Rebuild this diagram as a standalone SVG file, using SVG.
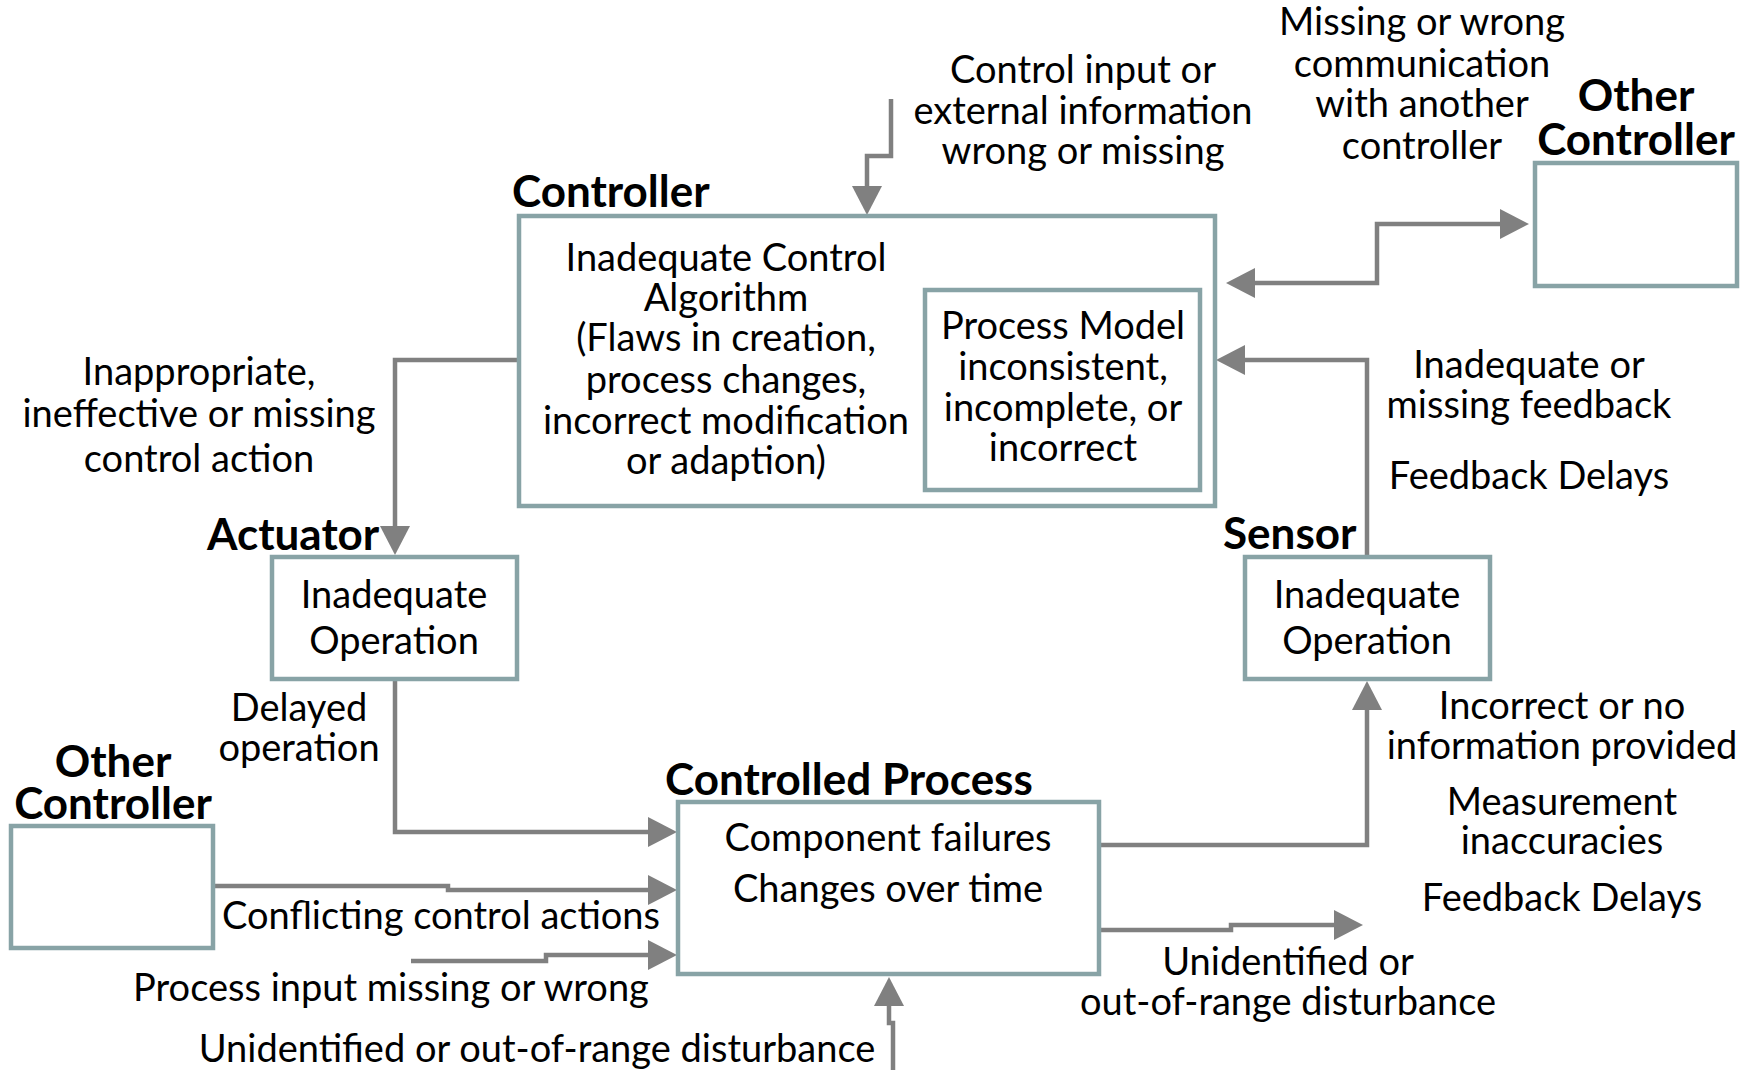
<svg xmlns="http://www.w3.org/2000/svg" width="1756" height="1070" viewBox="0 0 1756 1070">
  <defs>
    <style>
      .box { fill: #ffffff; stroke: #88a3a6; stroke-width: 4.5; }
      .wire { fill: none; stroke: #808080; stroke-width: 4.5; stroke-linejoin: miter; }
      .t { font-family: Lato, "Open Sans", "Liberation Sans", sans-serif; font-size: 38px; fill: #000; text-anchor: middle; }
      .h { font-family: Lato, "Open Sans", "Liberation Sans", sans-serif; font-size: 44px; font-weight: bold; fill: #000; }
      .hc { text-anchor: middle; }
    </style>
    <marker id="arrow" viewBox="0 0 29 30" refX="0" refY="15" markerWidth="29" markerHeight="30" markerUnits="userSpaceOnUse" orient="auto-start-reverse">
      <path d="M0,0 L29,15 L0,30 Z" fill="#808080"/>
    </marker>
  </defs>

  <rect width="1756" height="1070" fill="#ffffff"/>

  <!-- connectors -->
  <g id="connectors">
    <path class="wire" d="M891,99 V156 H867 V186" marker-end="url(#arrow)"/>
    <path class="wire" d="M1255,283 H1377 V224 H1500" marker-start="url(#arrow)" marker-end="url(#arrow)"/>
    <path class="wire" d="M1367,557 V360 H1245" marker-end="url(#arrow)"/>
    <path class="wire" d="M518,360 H395 V526" marker-end="url(#arrow)"/>
    <path class="wire" d="M395,680 V832 H648" marker-end="url(#arrow)"/>
    <path class="wire" d="M214,886 H448 V890 H648" marker-end="url(#arrow)"/>
    <path class="wire" d="M411,961 H546 V955 H648" marker-end="url(#arrow)"/>
    <path class="wire" d="M893,1070 V1023 H889 V1006" marker-end="url(#arrow)"/>
    <path class="wire" d="M1100,845 H1367 V710" marker-end="url(#arrow)"/>
    <path class="wire" d="M1100,930 H1231 V925 H1334" marker-end="url(#arrow)"/>
  </g>

  <!-- controller -->
  <g id="controller">
    <text class="h" x="512" y="207">Controller</text>
    <rect class="box" x="519" y="216" width="696" height="290"/>
    <text class="t" x="726" y="271">Inadequate Control<tspan x="726" dy="40">Algorithm</tspan><tspan x="726" dy="40">(Flaws in creation,</tspan><tspan x="726" dy="42">process changes,</tspan><tspan x="726" dy="41">incorrect modification</tspan><tspan x="726" dy="40">or adaption)</tspan></text>
  </g>

  <g id="process-model">
    <rect class="box" x="925" y="290" width="275" height="200"/>
    <text class="t" x="1063" y="339">Process Model<tspan x="1063" dy="41">inconsistent,</tspan><tspan x="1063" dy="41">incomplete, or</tspan><tspan x="1063" dy="40">incorrect</tspan></text>
  </g>

  <!-- other controller, upper right -->
  <g id="other-controller-right">
    <text class="h hc" x="1636" y="111">Other<tspan x="1636" dy="44">Controller</tspan></text>
    <rect class="box" x="1535" y="163" width="202" height="123"/>
  </g>

  <!-- other controller, lower left -->
  <g id="other-controller-left">
    <text class="h hc" x="113" y="777">Other<tspan x="113" dy="42">Controller</tspan></text>
    <rect class="box" x="11" y="826" width="202" height="122"/>
  </g>

  <g id="actuator">
    <text class="h" x="207" y="550">Actuator</text>
    <rect class="box" x="272" y="557" width="245" height="122"/>
    <text class="t" x="394" y="608">Inadequate<tspan x="394" dy="46">Operation</tspan></text>
  </g>

  <g id="sensor">
    <text class="h" x="1223" y="549">Sensor</text>
    <rect class="box" x="1245" y="557" width="245" height="122"/>
    <text class="t" x="1367" y="608">Inadequate<tspan x="1367" dy="46">Operation</tspan></text>
  </g>

  <g id="controlled-process">
    <text class="h" x="665" y="795">Controlled Process</text>
    <rect class="box" x="678" y="802" width="421" height="172"/>
    <text class="t" x="888" y="851">Component failures<tspan x="888" dy="51">Changes over time</tspan></text>
  </g>

  <!-- connector labels -->
  <g id="labels">
    <text class="t" x="1083" y="83">Control input or<tspan x="1083" dy="41">external information</tspan><tspan x="1083" dy="40">wrong or missing</tspan></text>

    <text class="t" x="1422" y="35">Missing or wrong<tspan x="1422" dy="42">communication</tspan><tspan x="1422" dy="40">with another</tspan><tspan x="1422" dy="42">controller</tspan></text>

    <text class="t" x="1529" y="378">Inadequate or<tspan x="1529" dy="40">missing feedback</tspan></text>
    <text class="t" x="1529" y="489">Feedback Delays</text>

    <text class="t" x="199" y="385">Inappropriate,<tspan x="199" dy="42">ineffective or missing</tspan><tspan x="199" dy="45">control action</tspan></text>

    <text class="t" x="299" y="721">Delayed<tspan x="299" dy="40">operation</tspan></text>

    <text class="t" x="441" y="929">Conflicting control actions</text>
    <text class="t" x="391" y="1001">Process input missing or wrong</text>
    <text class="t" x="537" y="1062">Unidentified or out-of-range disturbance</text>

    <text class="t" x="1562" y="719">Incorrect or no<tspan x="1562" dy="40">information provided</tspan></text>
    <text class="t" x="1562" y="815">Measurement<tspan x="1562" dy="39">inaccuracies</tspan></text>
    <text class="t" x="1562" y="911">Feedback Delays</text>

    <text class="t" x="1288" y="975">Unidentified or<tspan x="1288" dy="40">out-of-range disturbance</tspan></text>
  </g>
</svg>
